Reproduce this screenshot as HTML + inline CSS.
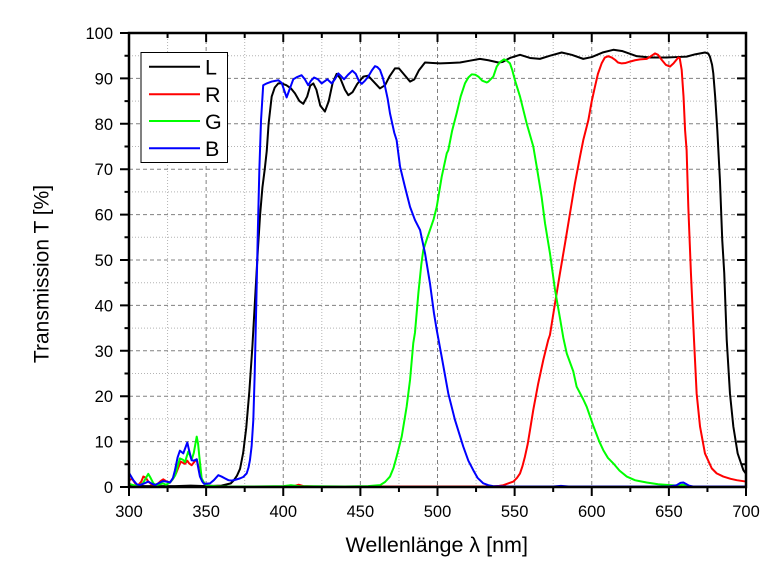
<!DOCTYPE html>
<html>
<head>
<meta charset="utf-8">
<style>
html,body{margin:0;padding:0;background:#fff;}
svg{display:block;}
text{font-family:"Liberation Sans",Arial,sans-serif;fill:#000;}
</style>
</head>
<body>
<svg width="774" height="570" viewBox="0 0 774 570" xmlns="http://www.w3.org/2000/svg">
<rect x="0" y="0" width="774" height="570" fill="#fff"/>

<!-- minor grid (dotted) -->
<g stroke="#b4b4b4" stroke-width="1" stroke-dasharray="1 2" fill="none">
  <line x1="167.56" y1="33" x2="167.56" y2="487"/>
  <line x1="244.69" y1="33" x2="244.69" y2="487"/>
  <line x1="321.81" y1="33" x2="321.81" y2="487"/>
  <line x1="398.94" y1="33" x2="398.94" y2="487"/>
  <line x1="476.06" y1="33" x2="476.06" y2="487"/>
  <line x1="553.19" y1="33" x2="553.19" y2="487"/>
  <line x1="630.31" y1="33" x2="630.31" y2="487"/>
  <line x1="707.44" y1="33" x2="707.44" y2="487"/>
  <line x1="129" y1="464.3" x2="746" y2="464.3"/>
  <line x1="129" y1="418.9" x2="746" y2="418.9"/>
  <line x1="129" y1="373.5" x2="746" y2="373.5"/>
  <line x1="129" y1="328.1" x2="746" y2="328.1"/>
  <line x1="129" y1="282.7" x2="746" y2="282.7"/>
  <line x1="129" y1="237.3" x2="746" y2="237.3"/>
  <line x1="129" y1="191.9" x2="746" y2="191.9"/>
  <line x1="129" y1="146.5" x2="746" y2="146.5"/>
  <line x1="129" y1="101.1" x2="746" y2="101.1"/>
  <line x1="129" y1="55.7" x2="746" y2="55.7"/>
</g>
<!-- major grid (dashed) -->
<g stroke="#808080" stroke-width="1" stroke-dasharray="4 3" fill="none">
  <line x1="206.13" y1="33" x2="206.13" y2="487"/>
  <line x1="283.25" y1="33" x2="283.25" y2="487"/>
  <line x1="360.38" y1="33" x2="360.38" y2="487"/>
  <line x1="437.5" y1="33" x2="437.5" y2="487"/>
  <line x1="514.63" y1="33" x2="514.63" y2="487"/>
  <line x1="591.75" y1="33" x2="591.75" y2="487"/>
  <line x1="668.88" y1="33" x2="668.88" y2="487"/>
  <line x1="129" y1="441.6" x2="746" y2="441.6"/>
  <line x1="129" y1="396.2" x2="746" y2="396.2"/>
  <line x1="129" y1="350.8" x2="746" y2="350.8"/>
  <line x1="129" y1="305.4" x2="746" y2="305.4"/>
  <line x1="129" y1="260" x2="746" y2="260"/>
  <line x1="129" y1="214.6" x2="746" y2="214.6"/>
  <line x1="129" y1="169.2" x2="746" y2="169.2"/>
  <line x1="129" y1="123.8" x2="746" y2="123.8"/>
  <line x1="129" y1="78.4" x2="746" y2="78.4"/>
</g>

<!-- data curves -->
<g transform="translate(129,487) scale(1.5425,-4.54) translate(-300,0)" fill="none" stroke-width="2" stroke-linejoin="round" stroke-linecap="round">
<polyline vector-effect="non-scaling-stroke" stroke="#000000" points="300,0.3 310,0.2 320,0.2 330,0.2 340,0.3 350,0.2 360,0.3 366,0.8 368,1.5 370,2.5 372,4 374,7.5 376,13 378,21 380,31 382,43 383.5,52 385,60 386.5,66 388,70 389.3,74 390.5,80 392.5,86 394.5,88 396.8,88.9 399,88.9 402,88.5 405,87.8 407.6,86.7 410.5,85 413,84.4 415.5,86 417.5,88.4 419.5,88.9 421.5,87.5 424,84 427,82.7 429.5,85 432,89 434.6,91 437,90 440,87.5 442.2,86.3 445,87 448,88.8 451.9,90.4 455,90.6 458,89.5 462.7,87.8 466,88.5 469,90.5 472.4,92.2 475,92.2 478,91 482.2,89.3 485,89.8 488,91.8 491.9,93.5 497,93.4 501.6,93.3 508,93.4 514.6,93.5 521,93.9 527.5,94.3 533,94 539.4,93.5 542,93.6 547,94.5 553.5,95.2 560,94.5 566.4,94.3 573,95 580.5,95.7 587,95.2 594.5,94.3 600,94.7 607,95.7 614,96.3 620,96 629,94.9 638,94.6 648.6,94.6 655,94.7 661.5,94.8 667,95.3 673.4,95.7 675.5,95.5 676.6,94.8 678,93 678.8,91.1 680,86 681.4,78.6 683.1,67.6 684.6,54.4 685.9,47.1 687.5,32.4 689.6,20.6 691.8,13.3 694.6,7.4 698.3,3.7 700,2.9"/>
<polyline vector-effect="non-scaling-stroke" stroke="#ff0000" points="300,1.5 302,1.8 304,0.8 306,0.4 308,1.2 309.3,2.3 311,2 312.5,1.2 314.5,0.6 316.9,0.4 319,0.8 320.5,1.3 322.2,1.7 324.5,1.2 326.6,1.0 328.5,1.8 330.5,3 333.5,5.6 336.3,5.1 337.8,5.8 339,5.2 340.6,4.8 342.5,5.6 343.9,6.1 345,4.5 346,2.6 347.5,1.4 349,0.8 351,0.3 360,0.1 400,0.1 407,0.2 410,0.5 413,0.2 420,0.1 535,0.1 540,0.25 542.7,0.4 546,0.8 549.2,1.2 551.5,2 553.5,3 555,4.5 556.7,6.7 558.5,9.5 560,12.6 562.1,17 565.3,22.8 568.6,28 571.8,32.4 572.9,33.5 576.2,40.5 579.4,47.1 582.7,53.7 585.9,60.3 589.1,66.9 592.4,72.8 594.5,76.4 597.8,80.8 600,85 602.1,88.2 604,91 606.4,93.3 608.5,94.6 610.7,94.9 613,94.6 615.1,94.1 617,93.5 619.4,93.3 622,93.4 624.8,93.7 628,94 631.3,94.2 635.6,94.3 638,94.8 641,95.5 643,95.2 645.3,94.1 648,93 650.7,92.6 653,93.3 656.1,94.6 657,94.5 658.3,91.9 659.5,86 660.5,78.6 661.5,74.2 662.6,61.7 664.3,47.1 666.3,32.4 668,20.6 670.2,13.3 673.4,7.4 677.8,4.1 681,3 685.3,2.3 690,1.8 694,1.5 700,1.2"/>
<polyline vector-effect="non-scaling-stroke" stroke="#00ff00" points="300,0.7 303,0.4 306,0.3 309,0.8 311,2 312.5,2.9 314,2 315.8,0.8 318,0.4 322,0.8 324,0.5 326.6,1.0 328.5,1.8 330,2.6 331.5,4.5 333,6.3 335,6 336.3,5.5 338.4,7.8 339.5,7 340.6,6 342,7.5 343.9,11.1 344.8,9.5 345.6,6.7 347.1,1.9 349,0.7 351,0.3 360,0.1 380,0.1 400,0.2 405,0.4 410,0.2 440,0.1 455,0.2 462.7,0.4 466,1.1 469.2,2.3 471.5,4.2 473.5,6.7 476.8,11.1 480,17.7 482.2,23.6 484.3,31.7 485.4,34 487.6,42.7 489.5,49 490.8,52.2 493,54.5 495.1,56.6 497.5,59 499.5,61.7 502.7,68.3 506,73.5 507,74.2 509.5,78.5 512.4,82.3 515,86 517.8,88.9 520,90.2 522.2,90.9 524.5,90.8 526.5,90.4 529,89.5 531.9,89.1 533,89.3 536.2,90.4 538.4,92.6 540.5,93.6 543.1,94.2 545,93.9 547,93.3 548.5,91.8 550.2,89.6 553.5,86 557.8,80.1 562.1,75 564.3,70.6 567.5,63.9 569.7,58.1 572.9,51.5 576.2,43.4 579.4,37.2 581.6,32.8 583.8,29.4 588,25.5 590.2,22.1 594.5,19.3 596.7,17.7 601,13.5 604.9,10 607.5,8.1 610.5,6.4 614,5.2 618,3.6 622.7,2.3 628,1.5 635.6,1.0 643,0.6 650.7,0.4 656,0.3 659,0.5 661,0.4 664,0.15 700,0.1"/>
<polyline vector-effect="non-scaling-stroke" stroke="#0000ff" points="300,3.1 302.8,1.5 305,0.6 307,0.4 310,0.8 312.5,1.2 315,0.7 316.9,0.4 319,0.8 322,1.3 324,1.2 326.6,1.0 328.5,2 329.8,3.7 331.5,6.5 333,8 335.2,7.4 337.8,9.8 339,8 340.6,5.9 342,5.8 343.9,6.1 345,4 346,2.3 347.5,1.2 348.6,0.7 352.5,0.8 355,1.5 357.9,2.6 360,2.3 362.2,1.9 364.5,1.5 366.6,1.4 369,1.6 372,1.9 374,2.2 376.3,3 377.5,4.3 378.4,5.9 379.5,9 380.6,14.8 381.5,25 382.5,40 383.5,56 384.5,69.8 385.6,80.8 387,88.5 389.3,88.9 392.5,89.3 396.8,89.6 399,89 400.5,87.5 402.2,85.8 404,87.5 406.5,89.8 409,90.3 411.9,90.7 414,89.8 416.2,88.5 418,89.5 420,90.2 422.5,89.8 424.9,88.9 428.6,89.8 431.4,88.9 433.5,89.8 435.7,91.1 437.5,90.5 439.4,89.8 442,90.8 444.8,91.7 447,91 449,89.5 450.9,88.8 453,89.5 455.1,90.4 457.5,91.8 459.5,92.7 461,92.5 462.7,91.9 464.5,90.2 466,88.2 467.7,85.5 469.2,82.3 472,78 473.5,76.4 475.7,70.6 478.9,66.1 482.2,61.7 485.4,58.8 488.7,56.6 491.9,51.5 495.1,44.9 497.7,38.3 499.5,34.6 502.7,28.7 507,20.6 511.3,14.8 516.7,8.9 520,5.8 523.2,3.7 526,2.0 529.7,0.8 533,0.4 536,0.2 545,0.1 575,0.1 580,0.25 585,0.1 650,0.1 655,0.4 657.5,0.9 659.4,1.0 661,0.7 663,0.3 666,0.1 700,0.1"/>
</g>

<!-- axes frame -->
<rect x="129" y="33" width="617" height="454" fill="none" stroke="#000" stroke-width="2.5"/>

<!-- ticks -->
<g stroke="#000" stroke-width="2" fill="none">
  <!-- bottom major (outward) -->
  <path d="M129,487V496 M206.13,487V496 M283.25,487V496 M360.38,487V496 M437.5,487V496 M514.63,487V496 M591.75,487V496 M668.88,487V496 M746,487V496"/>
  <!-- bottom minor -->
  <path d="M167.56,487V492 M244.69,487V492 M321.81,487V492 M398.94,487V492 M476.06,487V492 M553.19,487V492 M630.31,487V492 M707.44,487V492"/>
  <!-- top major (inward) -->
  <path d="M206.13,33V42 M283.25,33V42 M360.38,33V42 M437.5,33V42 M514.63,33V42 M591.75,33V42 M668.88,33V42"/>
  <!-- top minor -->
  <path d="M167.56,33V38 M244.69,33V38 M321.81,33V38 M398.94,33V38 M476.06,33V38 M553.19,33V38 M630.31,33V38 M707.44,33V38"/>
  <!-- left major (outward) -->
  <path d="M129,487H120 M129,441.6H120 M129,396.2H120 M129,350.8H120 M129,305.4H120 M129,260H120 M129,214.6H120 M129,169.2H120 M129,123.8H120 M129,78.4H120 M129,33H120"/>
  <!-- left minor -->
  <path d="M129,464.3H124.5 M129,418.9H124.5 M129,373.5H124.5 M129,328.1H124.5 M129,282.7H124.5 M129,237.3H124.5 M129,191.9H124.5 M129,146.5H124.5 M129,101.1H124.5 M129,55.7H124.5"/>
  <!-- right major (inward) -->
  <path d="M746,441.6H737 M746,396.2H737 M746,350.8H737 M746,305.4H737 M746,260H737 M746,214.6H737 M746,169.2H737 M746,123.8H737 M746,78.4H737"/>
  <!-- right minor -->
  <path d="M746,464.3H741.5 M746,418.9H741.5 M746,373.5H741.5 M746,328.1H741.5 M746,282.7H741.5 M746,237.3H741.5 M746,191.9H741.5 M746,146.5H741.5 M746,101.1H741.5 M746,55.7H741.5"/>
</g>

<!-- x tick labels -->
<g font-size="16.5" text-anchor="middle">
  <text x="129" y="517">300</text>
  <text x="206.13" y="517">350</text>
  <text x="283.25" y="517">400</text>
  <text x="360.38" y="517">450</text>
  <text x="437.5" y="517">500</text>
  <text x="514.63" y="517">550</text>
  <text x="591.75" y="517">600</text>
  <text x="668.88" y="517">650</text>
  <text x="746" y="517">700</text>
</g>
<!-- y tick labels -->
<g font-size="16.5" text-anchor="end">
  <text x="113" y="493">0</text>
  <text x="113" y="447.6">10</text>
  <text x="113" y="402.2">20</text>
  <text x="113" y="356.8">30</text>
  <text x="113" y="311.4">40</text>
  <text x="113" y="266">50</text>
  <text x="113" y="220.6">60</text>
  <text x="113" y="175.2">70</text>
  <text x="113" y="129.8">80</text>
  <text x="113" y="84.4">90</text>
  <text x="113" y="39">100</text>
</g>

<!-- axis titles -->
<text x="436.7" y="552" font-size="21.5" text-anchor="middle">Wellenlänge λ [nm]</text>
<text transform="translate(48.5,274) rotate(-90)" font-size="21" text-anchor="middle">Transmission T [%]</text>

<!-- legend -->
<rect x="141" y="52.5" width="86.5" height="110" fill="#fff" stroke="#000" stroke-width="1"/>
<g stroke-width="2">
  <line x1="149" y1="66.7" x2="200" y2="66.7" stroke="#000000"/>
  <line x1="149" y1="94.3" x2="200" y2="94.3" stroke="#ff0000"/>
  <line x1="149" y1="121" x2="200" y2="121" stroke="#00ff00"/>
  <line x1="149" y1="148.3" x2="200" y2="148.3" stroke="#0000ff"/>
</g>
<g font-size="21.5">
  <text x="205" y="74.5">L</text>
  <text x="205" y="102">R</text>
  <text x="205" y="128.8">G</text>
  <text x="205" y="156">B</text>
</g>
</svg>
</body>
</html>
